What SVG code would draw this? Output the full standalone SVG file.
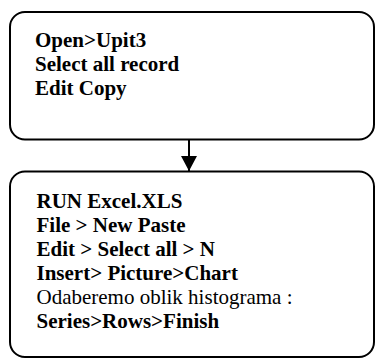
<svg xmlns="http://www.w3.org/2000/svg" width="376" height="359" viewBox="0 0 376 359">
  <style>
    .box { fill: #ffffff; stroke: #000000; stroke-width: 2; }
    .t { font-family: "Liberation Serif", "Times New Roman", serif; font-size: 21px; fill: #000000; }
    .b { font-weight: bold; }
    .edge { stroke: #000000; stroke-width: 2; fill: none; }
  </style>
  <defs>
    <marker id="arrow" viewBox="0 0 15 16" refX="15" refY="8" markerWidth="15" markerHeight="16" markerUnits="userSpaceOnUse" orient="auto">
      <path d="M0,0 L15,8 L0,16 Z" fill="#000000"/>
    </marker>
  </defs>
  <rect width="376" height="359" fill="#ffffff"/>

  <g id="connectors">
    <line class="edge" x1="189" y1="140" x2="189" y2="171" marker-end="url(#arrow)"/>
  </g>

  <g id="node-open">
    <rect class="box" x="10" y="12" width="364" height="127.5" rx="15" ry="15"/>
    <text class="t b" x="35" y="46.5">Open&gt;Upit3</text>
    <text class="t b" x="35" y="70.5">Select all record</text>
    <text class="t b" x="35" y="94.5">Edit Copy</text>
  </g>

  <g id="node-excel">
    <rect class="box" x="10" y="171.5" width="364" height="185.5" rx="15" ry="15"/>
    <text class="t b" x="36.5" y="208">RUN Excel.XLS</text>
    <text class="t b" x="36.5" y="232">File &gt; New Paste</text>
    <text class="t b" x="36.5" y="256">Edit &gt; Select all &gt; N</text>
    <text class="t b" x="36.5" y="280">Insert&gt; Picture&gt;Chart</text>
    <text class="t" x="36.5" y="304">Odaberemo oblik histograma :</text>
    <text class="t b" x="36.5" y="328">Series&gt;Rows&gt;Finish</text>
  </g>
</svg>
